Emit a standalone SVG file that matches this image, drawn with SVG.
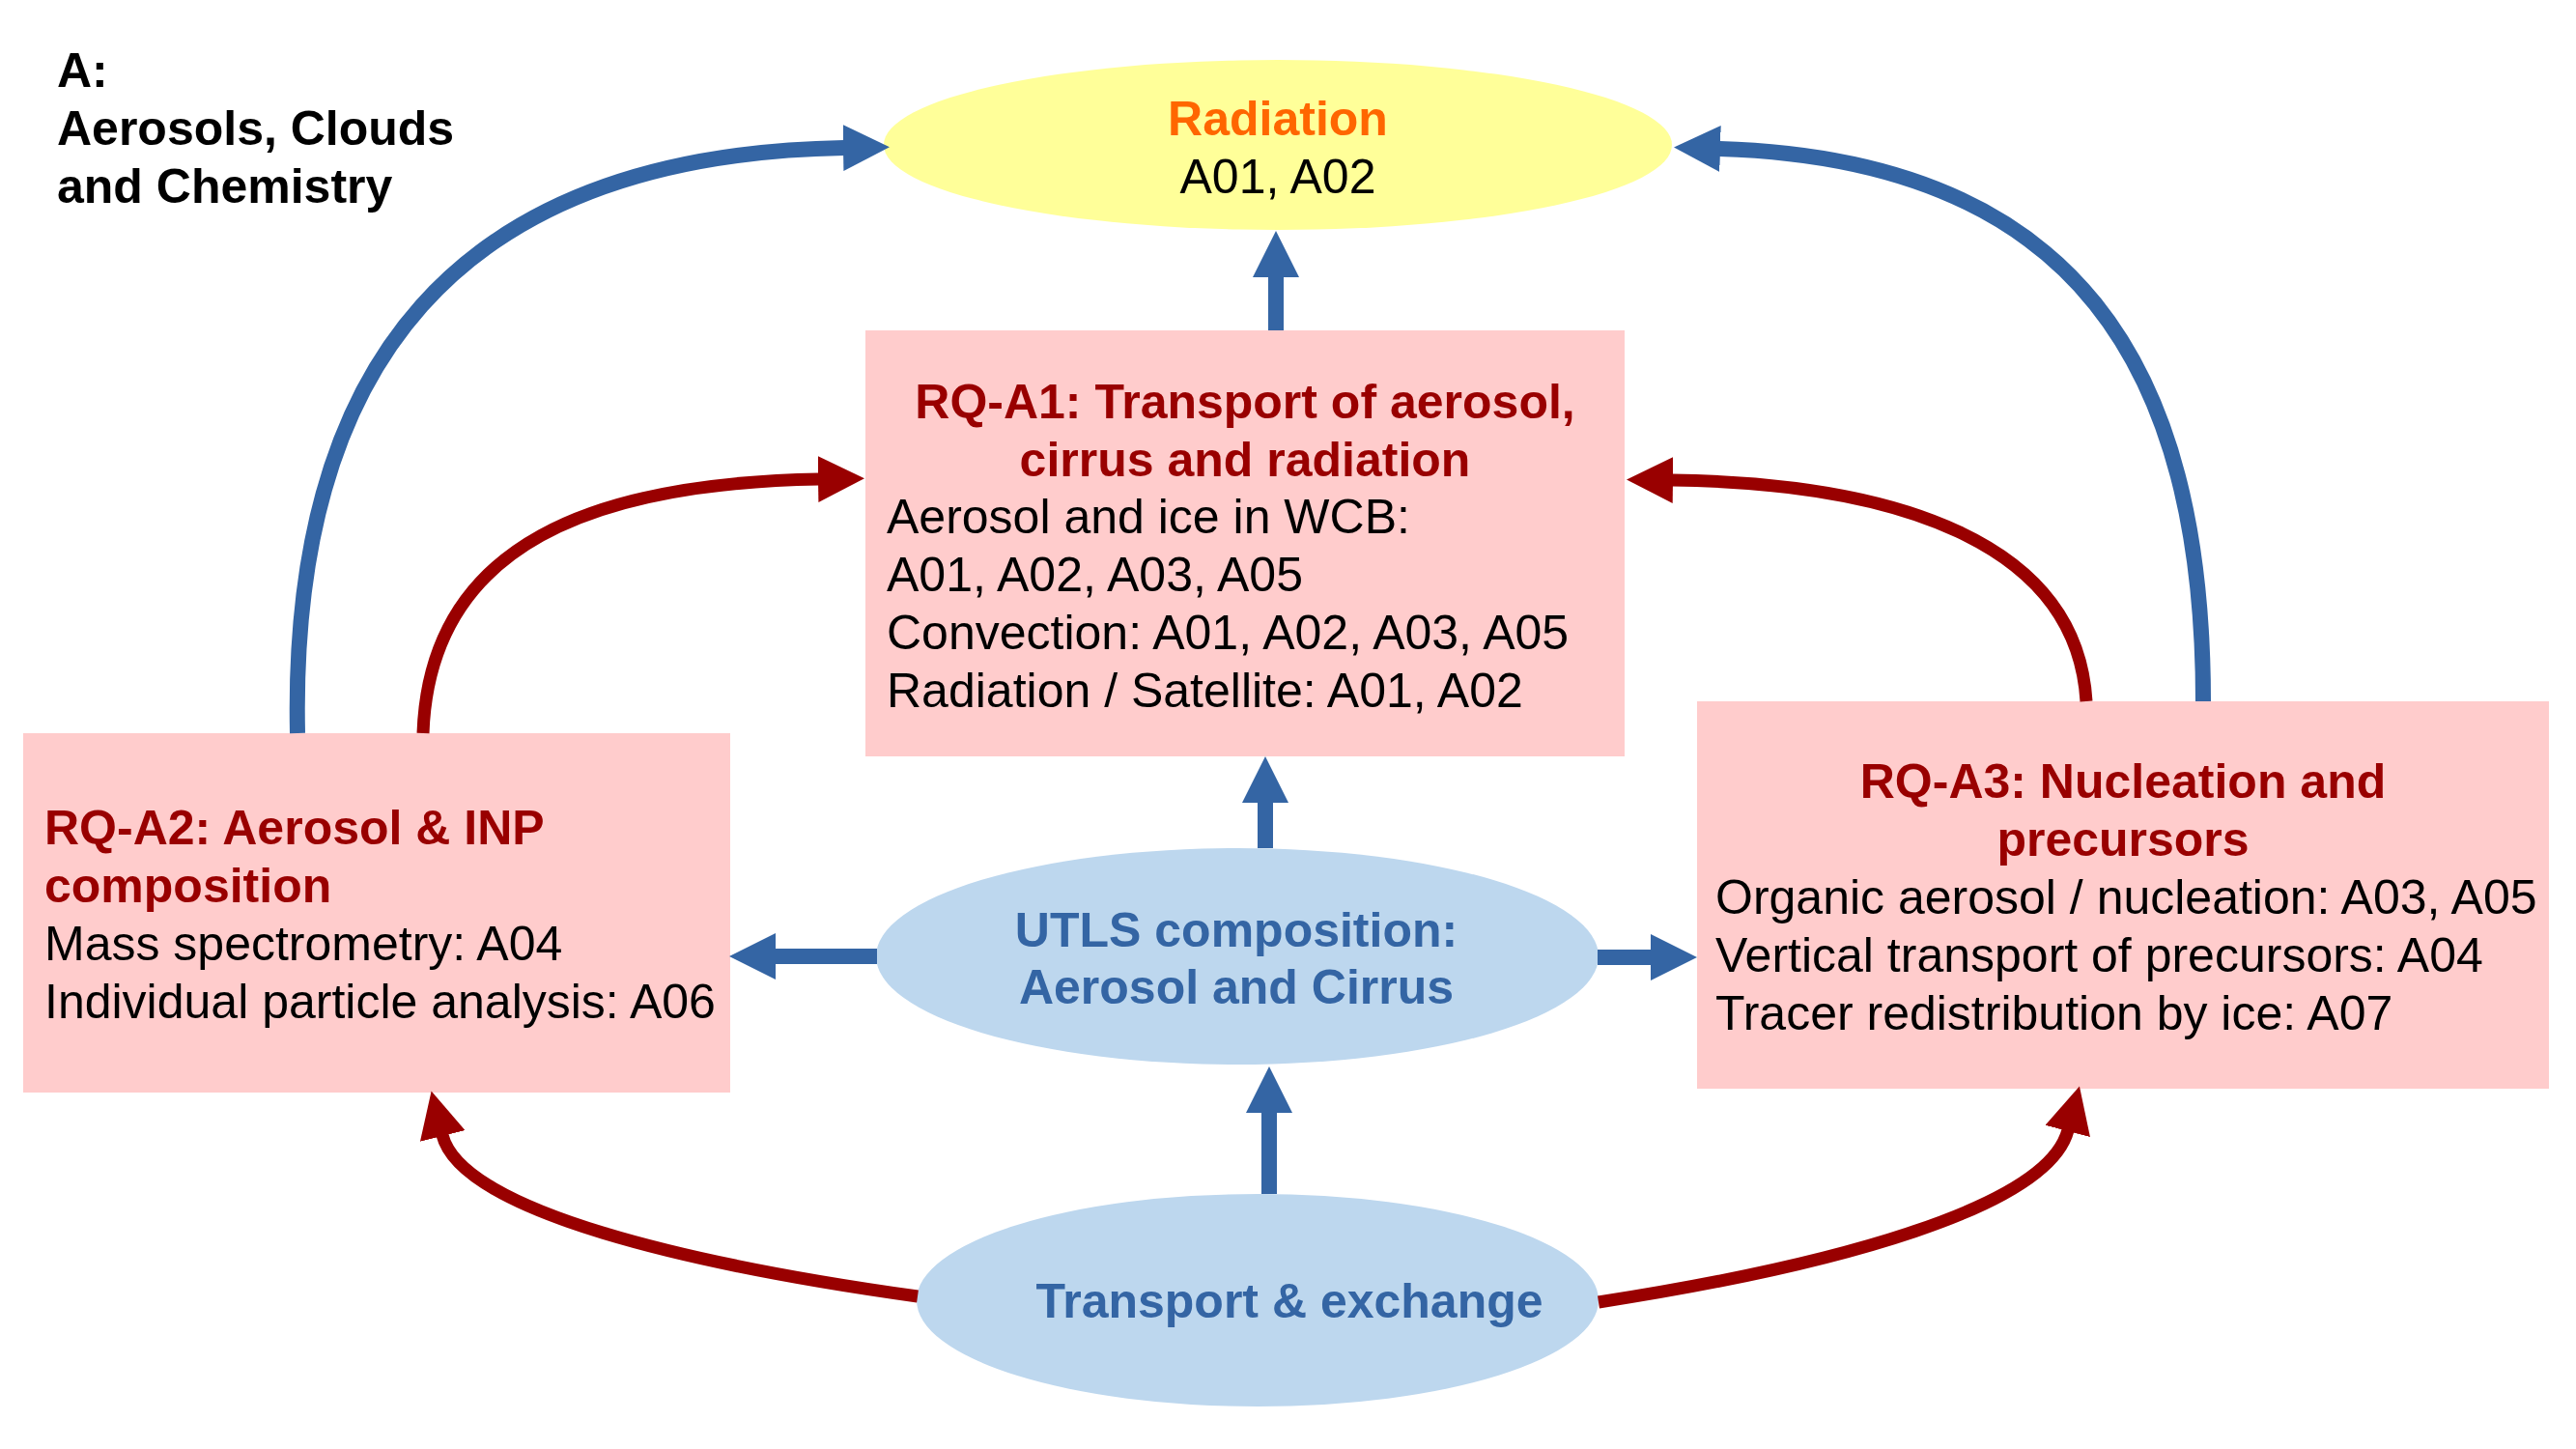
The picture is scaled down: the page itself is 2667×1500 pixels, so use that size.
<svg xmlns="http://www.w3.org/2000/svg" width="2667" height="1500" viewBox="0 0 2667 1500">
<style>
text{font-family:"Liberation Sans",Arial,sans-serif;font-size:50px}
.b{font-weight:bold}
.title{fill:#990000;font-weight:bold}
.body{fill:#000000}
.blue{fill:#3465a4;font-weight:bold}
.box{fill:#ffcccc}
.ell{fill:#bdd7ee}
.cb{fill:none;stroke:#3465a4;stroke-width:16}
.cr{fill:none;stroke:#990000;stroke-width:13}
</style>
<defs>
<marker id="ab" markerUnits="userSpaceOnUse" markerWidth="48" markerHeight="48" viewBox="0 0 48 48" refX="1" refY="24" orient="auto"><path d="M0,0 L48,24 L0,48 z" fill="#3465a4"/></marker>
<marker id="ar" markerUnits="userSpaceOnUse" markerWidth="48" markerHeight="48" viewBox="0 0 48 48" refX="1" refY="24" orient="auto"><path d="M0,0 L48,24 L0,48 z" fill="#990000"/></marker>
</defs>
<rect width="2667" height="1500" fill="#ffffff"/>
<g id="label-A">
<text class="b" x="59" y="90">A:</text>
<text class="b" x="59" y="150">Aerosols, Clouds</text>
<text class="b" x="59" y="210">and Chemistry</text>
</g>
<g id="radiation">
<ellipse cx="1323" cy="150" rx="408" ry="88" fill="#ffff99"/>
<text x="1323" y="140" text-anchor="middle" font-weight="bold" fill="#ff6600">Radiation</text>
<text x="1323" y="200" text-anchor="middle" fill="#000">A01, A02</text>
</g>
<g id="rq-a1">
<rect class="box" x="896" y="342" width="786" height="441"/>
<text class="title" x="1289" y="433" text-anchor="middle">RQ-A1: Transport of aerosol,</text>
<text class="title" x="1289" y="493" text-anchor="middle">cirrus and radiation</text>
<text class="body" x="918" y="552">Aerosol and ice in WCB:</text>
<text class="body" x="918" y="612">A01, A02, A03, A05</text>
<text class="body" x="918" y="672">Convection: A01, A02, A03, A05</text>
<text class="body" x="918" y="732">Radiation / Satellite: A01, A02</text>
</g>
<g id="rq-a2">
<rect class="box" x="24" y="759" width="732" height="372"/>
<text class="title" x="46" y="874">RQ-A2: Aerosol &amp; INP</text>
<text class="title" x="46" y="934">composition</text>
<text class="body" x="46" y="994">Mass spectrometry: A04</text>
<text class="body" x="46" y="1054">Individual particle analysis: A06</text>
</g>
<g id="rq-a3">
<rect class="box" x="1757" y="726" width="882" height="401"/>
<text class="title" x="2198" y="826" text-anchor="middle">RQ-A3: Nucleation and</text>
<text class="title" x="2198" y="886" text-anchor="middle">precursors</text>
<text class="body" x="1776" y="946">Organic aerosol / nucleation: A03, A05</text>
<text class="body" x="1776" y="1006">Vertical transport of precursors: A04</text>
<text class="body" x="1776" y="1066">Tracer redistribution by ice: A07</text>
</g>
<g id="utls">
<ellipse class="ell" cx="1281" cy="990" rx="374" ry="112"/>
<text class="blue" x="1280" y="980" text-anchor="middle">UTLS composition:</text>
<text class="blue" x="1280" y="1039" text-anchor="middle">Aerosol and Cirrus</text>
</g>
<g id="transport">
<ellipse class="ell" cx="1302" cy="1346" rx="353" ry="110"/>
<text class="blue" x="1335" y="1364" text-anchor="middle">Transport &amp; exchange</text>
</g>
<g id="connectors">
<path class="cb" d="M1321,342 L1321,286" marker-end="url(#ab)"/>
<path class="cb" d="M1310,878 L1310,830" marker-end="url(#ab)"/>
<path class="cb" d="M1314,1236 L1314,1151" marker-end="url(#ab)"/>
<path class="cb" d="M908,990 L802,990" marker-end="url(#ab)"/>
<path class="cb" d="M1654,991 L1710,991" marker-end="url(#ab)"/>
<path class="cb" d="M308,759 C300,380 470,160 874,153" marker-end="url(#ab)"/>
<path class="cb" d="M2281,726 C2281,380 2150,165 1780,154" marker-end="url(#ab)"/>
<path class="cr" d="M438,759 C445,560 620,500 848,496" marker-end="url(#ar)"/>
<path class="cr" d="M2160,726 C2150,560 1960,500 1731,497" marker-end="url(#ar)"/>
<path class="cr" d="M950,1342 C720,1310 478,1255 458,1175" marker-end="url(#ar)"/>
<path class="cr" d="M1655,1348 C1900,1310 2120,1250 2141,1170" marker-end="url(#ar)"/>
</g>
</svg>
